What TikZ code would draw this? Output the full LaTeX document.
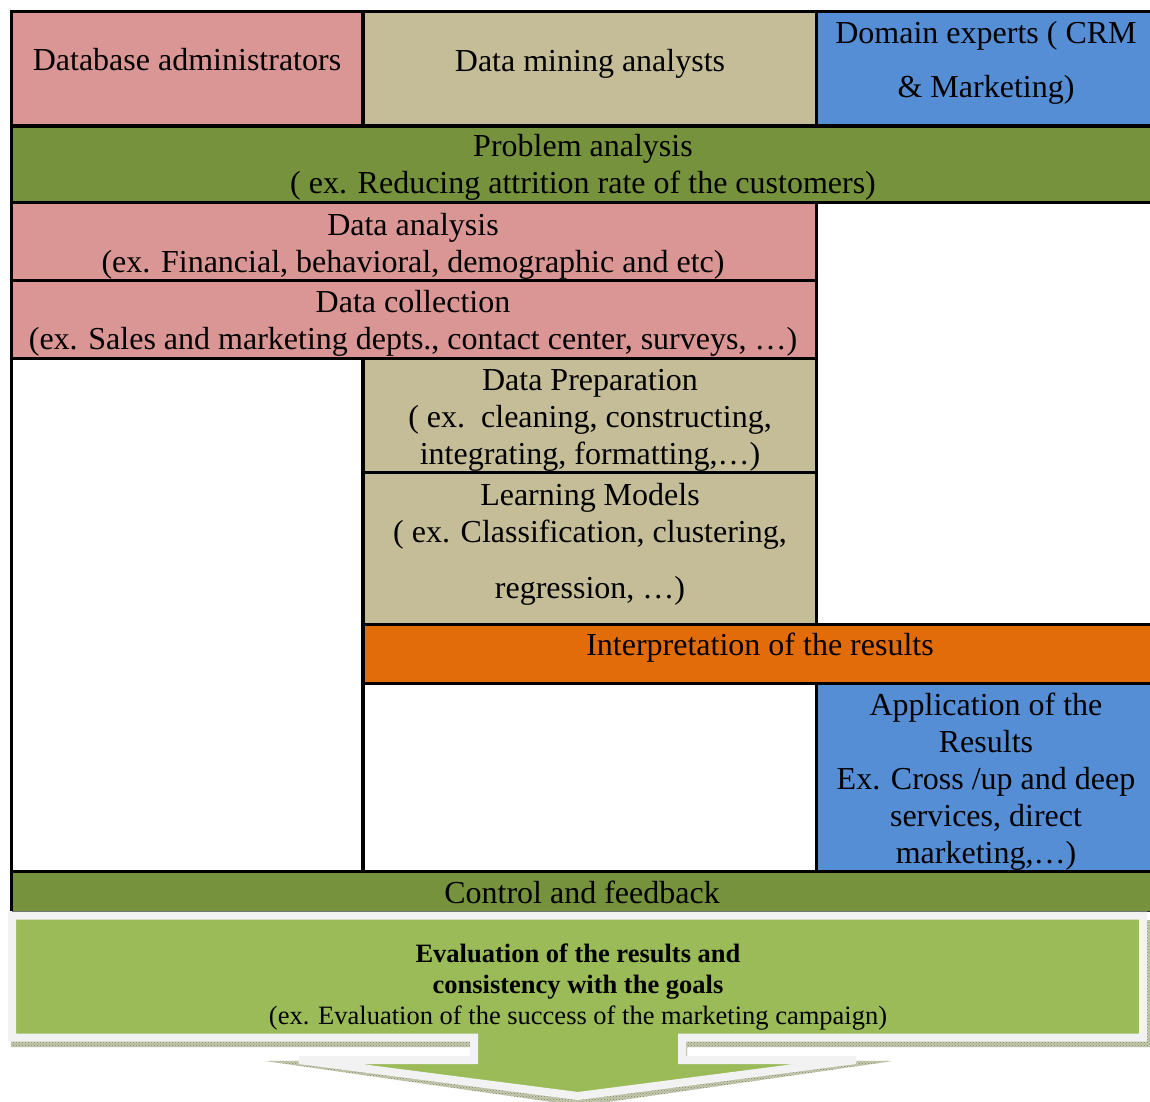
\documentclass[tikz,border=0pt]{standalone}
\usepackage{fontspec}
\setmainfont{Liberation Serif}
\usetikzlibrary{fit,patterns}
\definecolor{rosecell}{HTML}{D99694}
\definecolor{tancell}{HTML}{C4BD97}
\definecolor{bluecell}{HTML}{558ED5}
\definecolor{olivecell}{HTML}{76923C}
\definecolor{orangecell}{HTML}{E36C0A}
\definecolor{evalgreen}{HTML}{9BBB59}
\definecolor{evalrim}{HTML}{F2F2F2}
\definecolor{shadowlight}{HTML}{C3C8AF}
\definecolor{shadowdark}{HTML}{7E8A62}

\begin{document}
\begin{tikzpicture}[x=1pt,y=-1pt,
  cell/.style={draw=black, line width=3.3pt, inner sep=0pt, outer sep=0pt},
  txt/.style={font=\fontsize{32}{37}\selectfont, align=center, inner sep=0pt},
  evaltxt/.style={font=\fontsize{26.5}{31}\selectfont, align=center, inner sep=0pt}]
\useasboundingbox (0,0) rectangle (1150,1101);

% control and feedback band (borders added afterwards)
\node[inner sep=0pt, outer sep=0pt, fill=olivecell, fit={(11.5,871.7)(1152,911)}] (ctrl) {};

% header row: the three groups of people
\node[cell, fill=rosecell,  fit={(11.5,11.5)(363,126)}]   (dba) {};
\node[cell, fill=tancell,   fit={(363,11.5)(816.5,126)}]  (dma) {};
\node[cell, fill=bluecell,  fit={(816.5,11.5)(1152,126)}] (dom) {};

% process steps
\node[cell, fill=olivecell, fit={(11.5,126)(1152,202.5)}]    (prob) {};
\node[cell, fill=rosecell,  fit={(11.5,202.5)(816.5,280.5)}] (danal) {};
\node[cell, fill=rosecell,  fit={(11.5,280.5)(816.5,358.3)}] (dcoll) {};
\node[cell, fill=white,     fit={(11.5,358.3)(363,871.7)}]   (blankL) {};
\node[cell, fill=tancell,   fit={(363,358.3)(816.5,472.5)}]  (dprep) {};
\node[cell, fill=tancell,   fit={(363,472.5)(816.5,624.3)}]  (learn) {};
\node[cell, fill=orangecell,fit={(363,624.3)(1152,683.3)}]   (interp) {};
\node[cell, fill=white,     fit={(363,683.3)(816.5,871.7)}]  (blankM) {};
\node[cell, fill=bluecell,  fit={(816.5,683.3)(1152,871.7)}] (appl) {};

% edges of the control band
\draw[line width=3.3pt] (ctrl.north west) -- (ctrl.south west);
\draw[line width=1pt, black!80] (ctrl.south west) -- (ctrl.south east);

% texts of the table
\node[txt] (t-dba) at (187,60) {Database administrators};
\node[txt] (t-dma) at (590,63.5) {Data mining analysts};
\node[txt] (t-dom) at (986,62.5) {Domain experts ( CRM\\[17pt]\& Marketing)};
\node[txt] (t-prob) at (583,167) {Problem analysis\\( ex. Reducing attrition rate of the customers)};
\node[txt] (t-danal) at (413,246) {Data analysis\\(ex. Financial, behavioral, demographic and etc)};
\node[txt] (t-dcoll) at (413,323) {Data collection\\(ex. Sales and marketing depts., contact center, surveys, …)};
\node[txt] (t-dprep) at (590,420) {Data Preparation\\( ex.\ \ cleaning, constructing,\\integrating, formatting,…)};
\node[txt] (t-learn) at (590,544) {Learning Models\\( ex. Classification, clustering,\\[19pt]regression, …)};
\node[txt] (t-interp) at (760,647.5) {Interpretation of the results};
\node[txt] (t-appl) at (986,782) {Application of the\\Results\\Ex. Cross /up and deep\\services, direct\\marketing,…)};
\node[txt] (t-ctrl) at (582,892) {Control and feedback};

% evaluation panel: shadow first, then the down-arrow callout
\path[preaction={fill=shadowlight}, pattern=crosshatch dots, pattern color=shadowdark]
  (16,920) -- (1150,920) -- (1150,1047) -- (687,1047) -- (687,1060) -- (893,1061)
  -- (580,1106) -- (265,1061) -- (470,1060) -- (470,1047) -- (11,1047) -- cycle;
\path[fill=evalgreen, draw=evalrim, line width=8pt, line join=miter]
  (12,915.5) -- (1143,915.5) -- (1143,1037.5) -- (682,1037.5) -- (682,1060)
  -- (856,1060) -- (578,1096) -- (299,1060) -- (474,1060) -- (474,1037.5)
  -- (12,1037.5) -- cycle;
\node[evaltxt] (t-eval) at (578,987.5)
  {\textbf{Evaluation of the results and}\\\textbf{consistency with the goals}\\(ex. Evaluation of the success of the marketing campaign)};
\end{tikzpicture}
\end{document}
